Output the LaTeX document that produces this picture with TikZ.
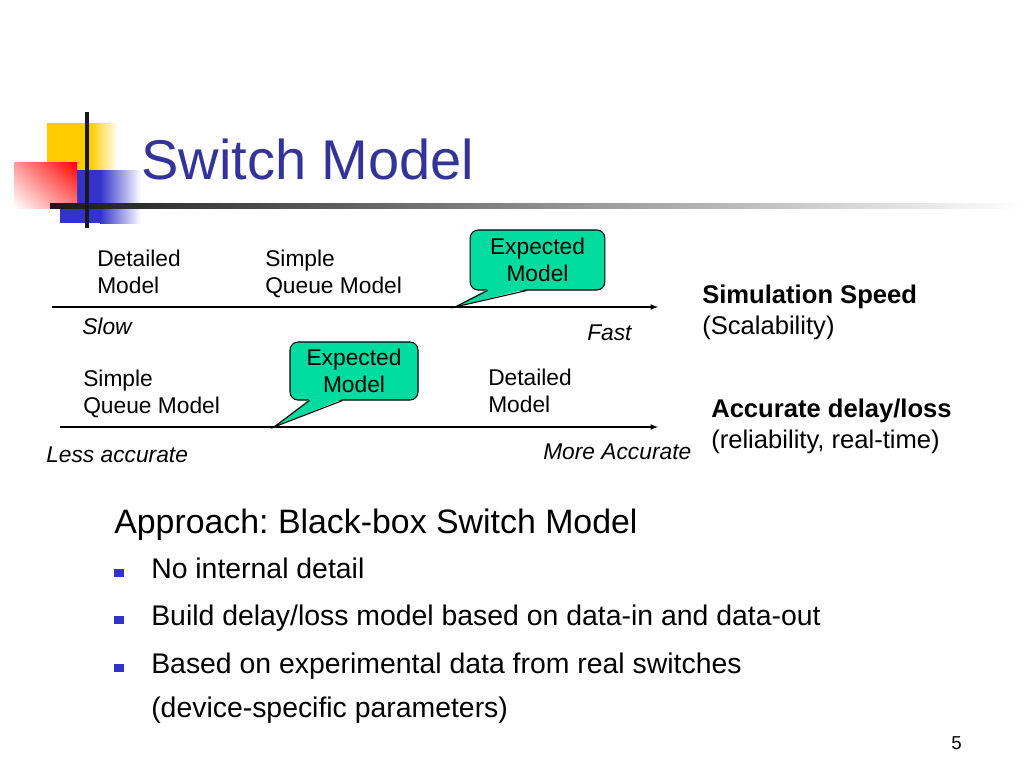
\documentclass[tikz,border=0pt]{standalone}
\usepackage{fontspec}
\setmainfont{Liberation Sans}
\usetikzlibrary{positioning,shadings}
\definecolor{titleblue}{RGB}{51,51,153}
\definecolor{markblue}{RGB}{51,51,204}
\definecolor{callgreen}{RGB}{0,220,160}
\definecolor{decoyellow}{RGB}{255,204,0}
\frenchspacing

\begin{document}
\begin{tikzpicture}[x=0.75pt,y=-0.75pt,
axis/.style={-latex,line width=0.9pt},
txt/.style={anchor=base west,inner sep=0pt,align=left,
  font=\fontsize{17.07}{20.25}\selectfont},
itxt/.style={txt,font=\fontsize{17.07}{20.25}\selectfont\itshape},
side/.style={anchor=base west,inner sep=0pt,align=left,
  font=\fontsize{19.2}{23.25}\selectfont},
callout/.style={rectangle,rounded corners=6pt,draw,line width=0.8pt,
  fill=callgreen,align=center,inner sep=0pt,text depth=1pt,
  font=\fontsize{17.07}{20.25}\selectfont},
point/.style={anchor=base west,inner sep=0pt,
  font=\fontsize{21.3}{25}\selectfont},
bulletbox/.style={fill=markblue,minimum width=6.8pt,minimum height=6pt,inner sep=0pt}
]
\useasboundingbox[fill=white] (0,0) rectangle (1024,768);

% corner decoration
\fill[decoyellow] (47,123) rectangle (90,170);
\shade[left color=decoyellow,right color=white] (90,123) rectangle (118,170);
\fill[markblue] (60,170) rectangle (100,223);
\shade[left color=markblue,right color=white] (100,170) rectangle (141,223);
\shade[upper right=red,upper left=red!40,lower right=red!50,lower left=white]
  (14,162) rectangle (77,208);
\shade[left color=black!90,right color=white] (50,203.5) rectangle (1024,208.5);
\fill[black!90] (85,112) rectangle (89,228);

% title
\node[anchor=base west,inner sep=0pt,text=titleblue,
  font=\fontsize{42}{49}\selectfont] (title) at (141,179) {Switch Model};

% speed axis
\coordinate (speedL) at (52,307);
\coordinate (speedR) at (658,307);
\draw[axis] (speedL) -- (speedR);
\node[txt] (Kdet1) at (97,293) {Detailed\\Model};
\node[txt] (Kque1) at (265,293) {Simple\\Queue Model};
\node[itxt] (Kslow) at (82,334) {Slow};
\node[itxt] (Kfast) at (587,340) {Fast};
\node[side] (Kspeed) at (702,334) {\textbf{Simulation Speed}\\(Scalability)};
\node[callout,minimum width=101pt,minimum height=45pt] (Kexp1) at (537.5,260)
  {Expected\\Model};
\coordinate (tip1) at (455,307);
\fill[callgreen] ([shift={(18,-1.5)}]Kexp1.south west) -- (tip1)
  -- ([shift={(57,-1.5)}]Kexp1.south west) -- cycle;
\draw[line width=0.8pt] ([shift={(18,0)}]Kexp1.south west) -- (tip1)
  -- ([shift={(57,0)}]Kexp1.south west);

% accuracy axis
\coordinate (accL) at (60,427);
\coordinate (accR) at (658,427);
\draw[axis] (accL) -- (accR);
\node[txt] (Kque2) at (83,413) {Simple\\Queue Model};
\node[txt] (Kdet2) at (488,412) {Detailed\\Model};
\node[itxt] (Kless) at (46,462) {Less accurate};
\node[itxt] (Kmore) at (543,459) {More Accurate};
\node[side] (Kacc) at (711,448) {\textbf{Accurate delay/loss}\\(reliability, real-time)};
\node[callout,minimum width=96pt,minimum height=43.5pt] (Kexp2) at (354,371)
  {Expected\\Model};
\coordinate (tip2) at (274,427);
\fill[callgreen] ([shift={(20,-1.5)}]Kexp2.south west) -- (tip2)
  -- ([shift={(53,-1.5)}]Kexp2.south west) -- cycle;
\draw[line width=0.8pt] ([shift={(20,0)}]Kexp2.south west) -- (tip2)
  -- ([shift={(53,0)}]Kexp2.south west);

% text below
\node[anchor=base west,inner sep=0pt,font=\fontsize{25.4}{30}\selectfont]
  (Kapp) at (114,533) {Approach: Black-box Switch Model};
\node[point] (P1) at (151,578) {No internal detail};
\node[point] (P2) at (151,625) {Build delay/loss model based on data-in and data-out};
\node[point] (P3) at (151,673) {Based on experimental data from real switches};
\node[point] (P4) at (151,717) {(device-specific parameters)};
\foreach \p in {P1,P2,P3}
  \node[bulletbox] (B\p) at ([xshift=-24pt,yshift=3.8pt]\p.base west) {};

\node[anchor=base east,inner sep=0pt,font=\fontsize{14}{17}\selectfont]
  (Kpage) at (962,749) {5};
\end{tikzpicture}
\end{document}
